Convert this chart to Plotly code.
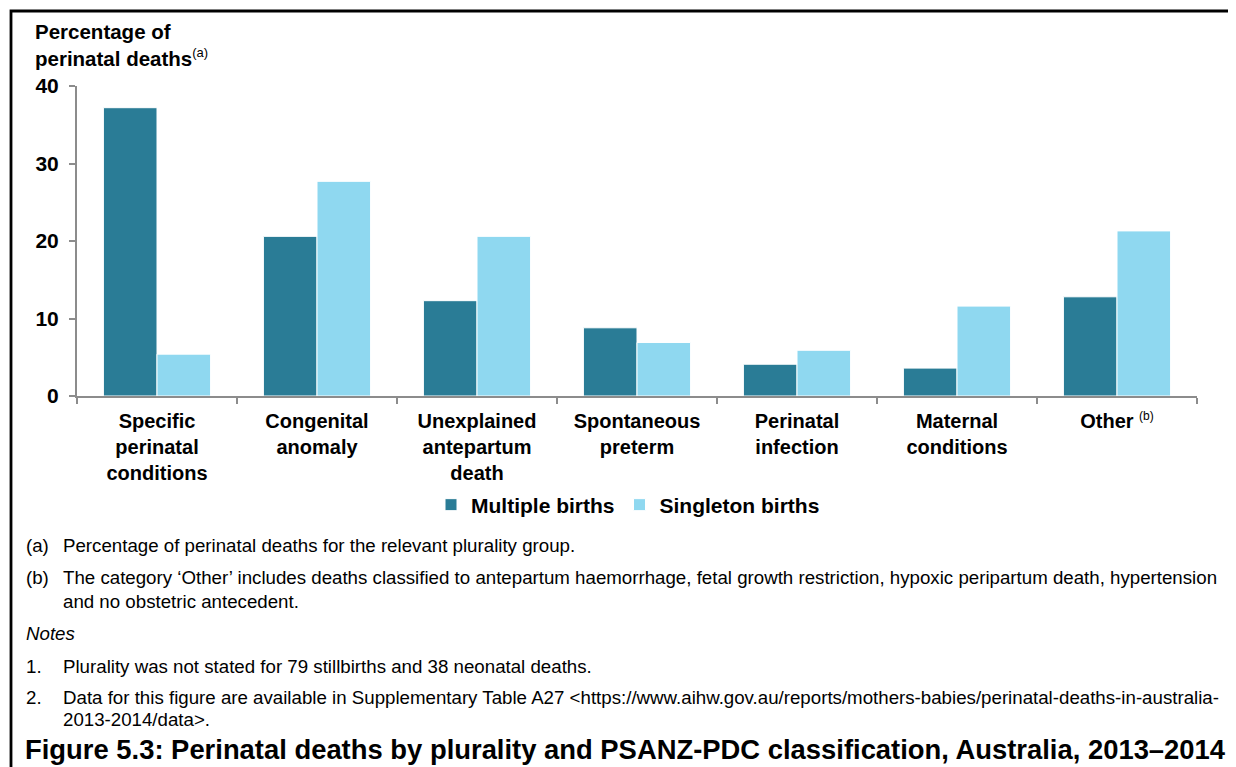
import plotly.graph_objects as go

categories = [
    "Specific<br>perinatal<br>conditions",
    "Congenital<br>anomaly",
    "Unexplained<br>antepartum<br>death",
    "Spontaneous<br>preterm",
    "Perinatal<br>infection",
    "Maternal<br>conditions",
    "Other <sup><span style='font-size:12px;font-weight:normal'>(b)</span></sup>",
]
multiple_births = [37.2, 20.6, 12.3, 8.8, 4.1, 3.6, 12.8]
singleton_births = [5.4, 27.7, 20.6, 6.9, 5.9, 11.6, 21.3]
y_ticks = [0, 10, 20, 30, 40]

OFF = 8                 # page body margin
W, H = 1236 - OFF, 767 - OFF
# target page pixel positions of the plot area
PL, PR, PT, PB = 77, 1197, 86, 396
L, R, T, B = PL - OFF, PR - OFF, PT - OFF, PB - OFF


def px(x):  # page pixel x -> paper
    return (x - OFF - L) / (R - L)


def py(y):  # page pixel y -> paper
    return (B - (y - OFF)) / (B - T)


FONT = "Liberation Sans, Arial, sans-serif"
DARK = "#2A7C96"
LIGHT = "#8FD8F0"
AXIS = "#8C8C8C"

fig = go.Figure()
fig.add_bar(x=categories, y=multiple_births, name="Multiple births",
            marker=dict(color=DARK, line=dict(color="white", width=1)))
fig.add_bar(x=categories, y=singleton_births, name="Singleton births",
            marker=dict(color=LIGHT, line=dict(color="white", width=1)))

fig.update_layout(
    width=W, height=H,
    margin=dict(l=L, r=W - R, t=T, b=H - B, pad=0),
    paper_bgcolor="white", plot_bgcolor="white",
    barmode="group", bargap=0.33, bargroupgap=0,
    font=dict(family=FONT, color="black"),
    showlegend=True,
    legend=dict(orientation="h", x=px(628), xanchor="center", y=py(505), yanchor="middle",
                font=dict(family=FONT, size=21, color="black", weight="bold"),
                itemwidth=30, tracegroupgap=0, bgcolor="rgba(0,0,0,0)"),
    xaxis=dict(showline=True, linecolor=AXIS, linewidth=2,
               ticks="outside", ticklen=6, tickcolor=AXIS, tickwidth=2,
               tickson="boundaries", ticklabelstandoff=6,
               tickfont=dict(family=FONT, size=20, color="black", weight="bold"),
               showgrid=False, fixedrange=True),
    yaxis=dict(range=[0, 40], tickvals=y_ticks, showline=True, linecolor=AXIS,
               linewidth=2, ticks="outside", ticklen=6, tickcolor=AXIS, tickwidth=2,
               tickfont=dict(family=FONT, size=21, color="black", weight="bold"),
               ticklabelstandoff=6,
               showgrid=False, zeroline=False, fixedrange=True),
)

# Outer frame (left and top edges visible; right/bottom run off the page)
fig.add_shape(type="rect", xref="paper", yref="paper",
              x0=px(11), x1=px(1260), y0=py(800), y1=py(11),
              line=dict(color="black", width=2.8), fillcolor="rgba(0,0,0,0)", layer="above")

# Axis title
fig.add_annotation(xref="paper", yref="paper", x=px(33), y=py(45), xanchor="left", yanchor="middle",
                   align="left", showarrow=False,
                   text="Percentage of<br>perinatal deaths<sup><span style='font-size:13px;font-weight:normal'>(a)</span></sup>",
                   font=dict(family=FONT, size=20.5, color="black", weight="bold"))

notes = [
    (24, 545, "(a)"), (61, 545, "Percentage of perinatal deaths for the relevant plurality group."),
    (24, 577, "(b)"), (61, 577, "The category \u2018Other\u2019 includes deaths classified to antepartum haemorrhage, fetal growth restriction, hypoxic peripartum death, hypertension"),
    (61, 601, "and no obstetric antecedent."),
    (24, 633, "<i>Notes</i>"),
    (24, 666, "1."), (61, 666, "Plurality was not stated for 79 stillbirths and 38 neonatal deaths."),
    (24, 697, "2."), (61, 697, "Data for this figure are available in Supplementary Table A27 &lt;https://www.aihw.gov.au/reports/mothers-babies/perinatal-deaths-in-australia-"),
    (61, 720, "2013-2014/data&gt;."),
]
for x, y, t in notes:
    fig.add_annotation(xref="paper", yref="paper", x=px(x), y=py(y), xanchor="left", yanchor="middle",
                       showarrow=False, text=t, font=dict(family=FONT, size=18.7, color="black"))

fig.add_annotation(xref="paper", yref="paper", x=px(23), y=py(750), xanchor="left", yanchor="middle",
                   showarrow=False,
                   text="Figure 5.3: Perinatal deaths by plurality and PSANZ-PDC classification, Australia, 2013\u20132014",
                   font=dict(family=FONT, size=27.4, color="black", weight="bold"))

fig.write_html("out.html", config={"displayModeBar": False})
